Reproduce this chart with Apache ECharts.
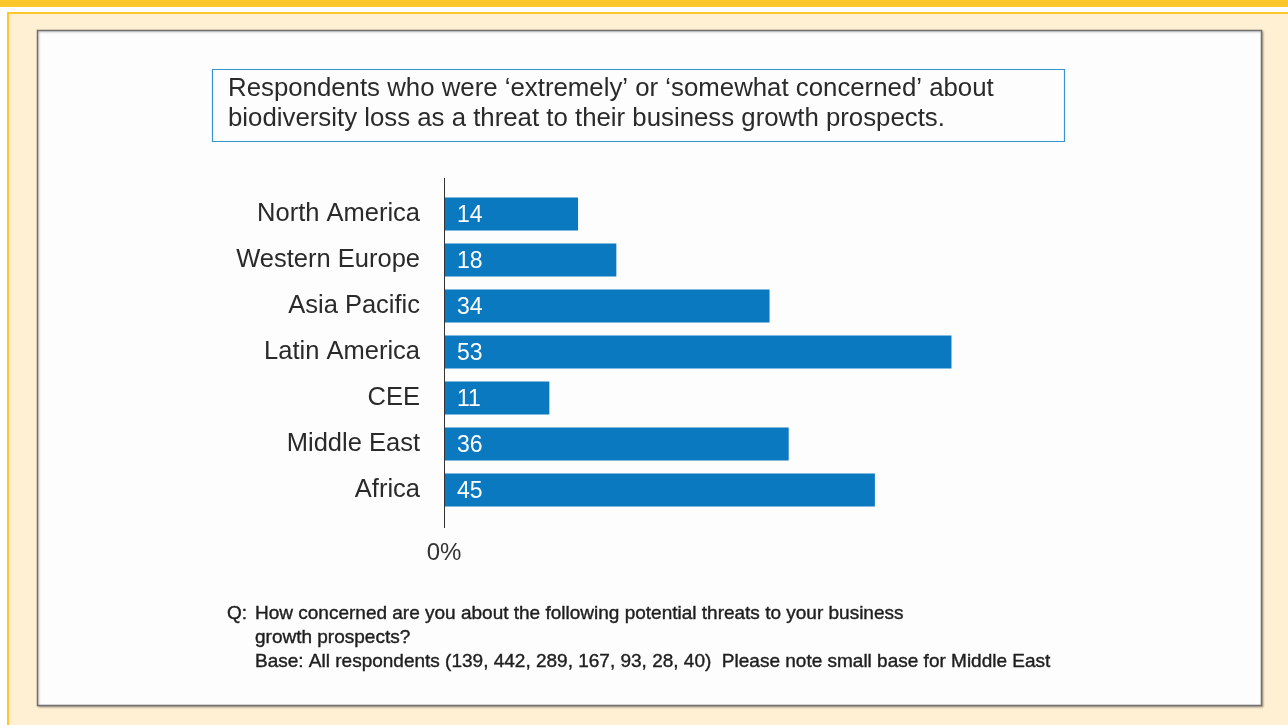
<!DOCTYPE html>
<html>
<head>
<meta charset="utf-8">
<script src="https://cdn.jsdelivr.net/npm/echarts@6/dist/echarts.min.js"></script>
<style>
  html, body { margin: 0; padding: 0; background: #fff; }
  #chart { width: 1288px; height: 725px; }
</style>
</head>
<body>
<div id="chart"></div>
<script>
// data
const regions = ['North America', 'Western Europe', 'Asia Pacific', 'Latin America', 'CEE', 'Middle East', 'Africa'];
const concerned = [14, 18, 34, 53, 11, 36, 45];
const titleLines = [
  'Respondents who were \u2018extremely\u2019 or \u2018somewhat concerned\u2019 about',
  'biodiversity loss as a threat to their business growth prospects.'
];
const noteLines = [
  'How concerned are you about the following potential threats to your business',
  'growth prospects?',
  'Base: All respondents (139, 442, 289, 167, 93, 28, 40)  Please note small base for Middle East'
];

const FONT = '"Liberation Sans", Arial, Helvetica, sans-serif';
const YELLOW = '#FFC72C';
const BLUE = '#0A79C0';

const chart = echarts.init(document.getElementById('chart'));

const noteStyle = {
  fontFamily: FONT, fontSize: 19, fontWeight: 'normal', color: '#1e1e1e', lineHeight: 24,
  textBorderColor: '#1e1e1e', textBorderWidth: 0.4
};

const option = {
  animation: false,
  backgroundColor: '#ffffff',
  textStyle: { fontFamily: FONT },
  graphic: [
    // top strip and cream frame
    { type: 'rect', z: -20, shape: { x: 0, y: 0, width: 1288, height: 7 }, style: { fill: YELLOW } },
    { type: 'rect', z: -20, shape: { x: 8, y: 13, width: 1300, height: 730 },
      style: { fill: '#FFEFD3', stroke: YELLOW, lineWidth: 2 } },
    // white panel
    { type: 'rect', z: -19, shape: { x: 37.5, y: 30.5, width: 1224, height: 675 },
      style: { fill: '#FDFDFD', stroke: '#707070', lineWidth: 1.5,
        shadowColor: 'rgba(0,0,0,0.25)', shadowBlur: 2, shadowOffsetX: 1, shadowOffsetY: 1 } },
    // title box
    { type: 'rect', z: -18, shape: { x: 212.5, y: 69.5, width: 852, height: 72 },
      style: { fill: '#FDFDFD', stroke: '#3993CF', lineWidth: 1.2 } },
    // vertical axis line
    { type: 'line', z: 5, shape: { x1: 444.5, y1: 178, x2: 444.5, y2: 528 },
      style: { stroke: '#333', lineWidth: 1 } }
  ],
  title: [
    {
      text: titleLines.join('\n'),
      left: 228, top: 74,
      padding: 0,
      textStyle: { fontFamily: FONT, fontSize: 25.8, fontWeight: 'normal', color: '#2a2a2a', lineHeight: 30 }
    },
    { text: 'Q:', left: 227, top: 602, padding: 0, textStyle: noteStyle },
    { text: noteLines.join('\n'), left: 255, top: 602, padding: 0, textStyle: noteStyle }
  ],
  grid: { left: 444, right: 78, top: 191, bottom: 212, containLabel: false },
  xAxis: {
    type: 'value',
    min: 0,
    max: 80,
    interval: 10,
    splitLine: { show: false },
    axisLine: { show: false },
    axisTick: { show: false },
    axisLabel: {
      margin: 28,
      fontSize: 24,
      color: '#333',
      fontFamily: FONT,
      formatter: v => (v === 0 ? '0%' : '')
    }
  },
  yAxis: {
    type: 'category',
    inverse: true,
    data: regions,
    axisLine: { show: false },
    axisTick: { show: false },
    axisLabel: { margin: 24, fontSize: 25.5, color: '#2a2a2a', fontFamily: FONT, padding: [4, 0, 0, 0] }
  },
  series: [
    {
      type: 'bar',
      data: concerned,
      barWidth: 33,
      itemStyle: { color: BLUE },
      label: {
        show: true,
        position: 'insideLeft',
        distance: 13,
        offset: [0, 2],
        color: '#fff',
        fontSize: 23,
        fontFamily: FONT
      }
    }
  ]
};

chart.setOption(option);
</script>
</body>
</html>
